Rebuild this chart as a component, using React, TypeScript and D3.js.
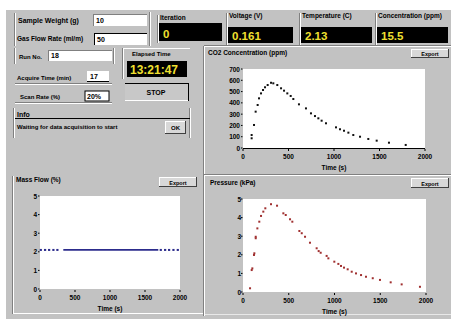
import React from 'react';
import * as d3 from 'd3';

// CO2 concentration curve (ppm) vs time (s)
const co2Time = [95, 95, 121, 139, 161, 176, 198, 220, 242, 271, 308, 333, 377, 418, 451, 487, 524, 553, 615, 692, 747, 791, 828, 864, 912, 1022, 1066, 1110, 1158, 1212, 1286, 1377, 1469, 1604, 1788];
const co2Value = [86, 115, 204, 322, 381, 440, 484, 514, 538, 558, 578, 573, 558, 529, 508, 484, 461, 434, 387, 351, 307, 283, 263, 242, 219, 183, 166, 153, 136, 115, 100, 80, 65, 47, 27];

// pressure curve vs time (s)
const pressureTime = [77, 95, 102, 120, 124, 139, 139, 157, 178, 197, 222, 244, 306, 372, 441, 467, 514, 539, 616, 642, 678, 732, 805, 827, 849, 914, 933, 998, 1042, 1071, 1104, 1144, 1188, 1235, 1290, 1344, 1418, 1497, 1614, 1734, 1934];
const pressureValue = [0.2, 1.18, 1.27, 1.99, 2.08, 2.89, 2.97, 3.42, 3.78, 4.09, 4.32, 4.5, 4.72, 4.64, 4.23, 4.14, 3.91, 3.78, 3.28, 3.16, 2.97, 2.65, 2.35, 2.2, 2.11, 1.94, 1.81, 1.63, 1.51, 1.4, 1.31, 1.22, 1.09, 1.0, 0.91, 0.82, 0.74, 0.65, 0.52, 0.41, 0.28];

// mass flow: sparse samples at the ends, continuous trace in the middle
const flowDotTime = [10, 71, 129, 190, 247, 1724, 1786, 1843, 1905, 1967];
const flowTraceTime = [333, 1690];
const flowLevel = 2.1;

const timeTicks = [0, 500, 1000, 1500, 2000];
const co2Ticks = [0, 100, 200, 300, 400, 500, 600, 700];
const smallTicks = [0, 1, 2, 3, 4, 5];

const FONT = '"Liberation Sans", Arial, sans-serif';
const GRAY = '#c2c2c2';
const DARK = '#808080';

function Txt(props: any) {
  const { x, y, children, size = 7, anchor = 'start', fill = '#000', weight = 'bold' } = props;
  return (
    <text x={x} y={y} fontSize={size} fontFamily={FONT} fontWeight={weight} textAnchor={anchor} fill={fill}>
      {children}
    </text>
  );
}

// sunken input box
function Input({ x, y, w, h, value, dark }: any) {
  return (
    <g>
      <rect x={x} y={y} width={w} height={h} fill="#fff" />
      <line x1={x} y1={y + 0.5} x2={x + w} y2={y + 0.5} stroke={dark ? '#000' : DARK} />
      <line x1={x + 0.5} y1={y} x2={x + 0.5} y2={y + h} stroke={dark ? '#000' : DARK} />
      <Txt x={x + 3} y={y + h - 3}>{value}</Txt>
    </g>
  );
}

function Button({ x, y, w, h, label, size = 6 }: any) {
  return (
    <g>
      <rect x={x} y={y} width={w} height={h} fill="#d8d8d8" />
      <line x1={x} y1={y + 0.5} x2={x + w} y2={y + 0.5} stroke="#fff" />
      <line x1={x + 0.5} y1={y} x2={x + 0.5} y2={y + h} stroke="#fff" />
      <line x1={x} y1={y + h - 0.5} x2={x + w} y2={y + h - 0.5} stroke="#404040" />
      <line x1={x + w - 0.5} y1={y} x2={x + w - 0.5} y2={y + h} stroke="#404040" />
      <Txt x={x + w / 2} y={y + h / 2 + 2.5} anchor="middle" size={size}>{label}</Txt>
    </g>
  );
}

function VGroove({ x, y1, y2 }: any) {
  return (
    <g>
      <line x1={x + 0.5} y1={y1} x2={x + 0.5} y2={y2} stroke={DARK} />
      <line x1={x + 1.5} y1={y1} x2={x + 1.5} y2={y2} stroke="#fff" />
    </g>
  );
}

function HGroove({ y, x1, x2 }: any) {
  return (
    <g>
      <line x1={x1} y1={y + 0.5} x2={x2} y2={y + 0.5} stroke={DARK} />
      <line x1={x1} y1={y + 1.5} x2={x2} y2={y + 1.5} stroke="#fff" />
    </g>
  );
}

function Display({ x, y, w, label, value, boxY, boxH }: any) {
  return (
    <g>
      <VGroove x={x - 2} y1={y - 5} x2={0} y2={boxY + boxH + 2} />
      <Txt x={x + 1} y={y} size={6.5}>{label}</Txt>
      <rect x={x} y={boxY} width={w} height={boxH} fill="#000" />
      <Txt x={x + 4} y={boxY + boxH - 3} size={11.5} fill="#f0e030">{value}</Txt>
    </g>
  );
}

function Chart(props: any) {
  const { x0, x1, y0, y1, yMax, yTicks, labelX, axisLine, children } = props;
  const xs = d3.scaleLinear().domain([0, 2000]).range([x0, x1]);
  const ys = d3.scaleLinear().domain([0, yMax]).range([y1, y0]);
  return (
    <g>
      <rect x={x0} y={y0} width={x1 - x0} height={y1 - y0} fill="#fff" />
      {axisLine && <line x1={x0} y1={y1 + 0.5} x2={x1} y2={y1 + 0.5} stroke="#000" strokeWidth={1.2} />}
      {yTicks.map((t: number) => (
        <g key={'y' + t}>
          <rect x={x0 - 2} y={ys(t) - 0.5} width={1.5} height={1} fill="#000" />
          <Txt x={labelX} y={ys(t) + 2.5} anchor="end" size={6.5}>{t}</Txt>
        </g>
      ))}
      {timeTicks.map((t) => (
        <g key={'x' + t}>
          <rect x={xs(t) - 0.5} y={y1 + 1} width={1} height={2} fill="#000" />
          <Txt x={xs(t)} y={y1 + 11} anchor="middle" size={6.5}>{t}</Txt>
        </g>
      ))}
      <Txt x={(x0 + x1) / 2} y={y1 + 22} anchor="middle" size={6.5}>Time (s)</Txt>
      {children(xs, ys)}
    </g>
  );
}

export default function App() {
  return (
    <svg width={451} height={319} style={{ position: 'absolute', left: 0, top: 0 }}>
      <rect x={0} y={0} width={451} height={319} fill="#fff" />
      <rect x={6} y={10} width={445} height={309} fill={GRAY} />

      {/* top-left parameter controls */}
      <VGroove x={14} y1={13} y2={46} />
      <VGroove x={149} y1={12} y2={46} />
      <Txt x={18} y={23}>Sample Weight (g)</Txt>
      <Input x={93} y={14} w={54} h={12} value="10" />
      <Txt x={17} y={41} size={6.5}>Gas Flow Rate (ml/m)</Txt>
      <Input x={94} y={33} w={53} h={12} value="50" dark />

      <VGroove x={14} y1={48} y2={64} />
      <VGroove x={113} y1={48} y2={64} />
      <Txt x={19} y={59} size={6}>Run No.</Txt>
      <Input x={48} y={50} w={64} h={11} value="18" />

      <Txt x={17} y={80} size={6}>Acquire Time (min)</Txt>
      <rect x={87} y={71} width={22} height={10} fill="#fff" />
      <Txt x={90} y={79}>17</Txt>
      <line x1={87} y1={81.5} x2={109} y2={81.5} stroke="#000" />
      <HGroove y={83} x1={15} x2={112} />

      <Txt x={20} y={99} size={6}>Scan Rate (%)</Txt>
      <rect x={85} y={91} width={24} height={10} fill="#fff" stroke="#000" strokeWidth={1} />
      <Txt x={87} y={99}>20%</Txt>
      <HGroove y={102} x1={15} x2={112} />

      {/* info box */}
      <VGroove x={13} y1={108} y2={138} />
      <VGroove x={189} y1={108} y2={138} />
      <Txt x={17} y={117}>Info</Txt>
      <line x1={15} y1={118.5} x2={190} y2={118.5} stroke="#000" />
      <Txt x={17} y={129} size={6}>Waiting for data acquisition to start</Txt>
      <Button x={165} y={121} w={21} h={13} label="OK" />

      {/* elapsed time + stop */}
      <VGroove x={122} y1={48} y2={79} />
      <line x1={123} y1={48.5} x2={190} y2={48.5} stroke="#fff" />
      <Txt x={132} y={56} size={6}>Elapsed Time</Txt>
      <rect x={127} y={61} width={60} height={16} fill="#000" />
      <Txt x={130} y={74} size={12} fill="#f0e030">13:21:47</Txt>
      <rect x={125} y={83} width={63} height={18} fill="#c8c8c8" />
      <line x1={125} y1={83.5} x2={188} y2={83.5} stroke="#000" />
      <line x1={188.5} y1={83} x2={188.5} y2={101} stroke="#000" />
      <line x1={125} y1={100.5} x2={188} y2={100.5} stroke="#fff" />
      <Txt x={156} y={95} anchor="middle" size={7}>STOP</Txt>

      {/* numeric indicators */}
      <Display x={159} y={20} w={63} label="Iteration" value="0" boxY={23} boxH={18} />
      <Display x={228} y={18} w={65} label="Voltage (V)" value="0.161" boxY={27} boxH={16} />
      <Display x={301} y={18} w={71} label="Temperature (C)" value="2.13" boxY={27} boxH={16} />
      <Display x={377} y={18} w={71} label="Concentration (ppm)" value="15.5" boxY={27} boxH={16} />

      {/* panel frames */}
      <VGroove x={203} y1={46} y2={316} />
      <HGroove y={45} x1={204} x2={451} />
      <HGroove y={174} x1={204} x2={451} />
      <VGroove x={12} y1={176} y2={314} />
      <line x1={13} y1={313.5} x2={203} y2={313.5} stroke="#fff" />
      <line x1={205} y1={314.5} x2={451} y2={314.5} stroke="#e8e8e8" />

      {/* CO2 chart */}
      <Txt x={208} y={55} size={6.5}>CO2 Concentration (ppm)</Txt>
      <Button x={411} y={49} w={38} h={9} label="Export" size={5.5} />
      <Chart x0={243} x1={425} y0={69} y1={148} yMax={700} yTicks={co2Ticks} labelX={240} axisLine>
        {(xs: any, ys: any) =>
          co2Time.map((t, i) => (
            <rect key={i} x={xs(t) - 1} y={ys(co2Value[i]) - 1} width={2} height={2} fill="#111" />
          ))
        }
      </Chart>

      {/* mass flow chart */}
      <Txt x={16} y={182} size={6.5}>Mass Flow (%)</Txt>
      <Button x={159} y={177} w={38} h={10} label="Export" size={5.5} />
      <Chart x0={40} x1={180} y0={196} y1={289} yMax={5} yTicks={smallTicks} labelX={37}>
        {(xs: any, ys: any) => (
          <g>
            {flowDotTime.map((t, i) => (
              <rect key={i} x={xs(t) - 1} y={ys(flowLevel) - 1} width={2.2} height={2} fill="#2c2c8c" />
            ))}
            <line x1={xs(flowTraceTime[0])} y1={ys(flowLevel)} x2={xs(flowTraceTime[1])} y2={ys(flowLevel)} stroke="#2c2c8c" strokeWidth={1.8} />
          </g>
        )}
      </Chart>

      {/* pressure chart */}
      <Txt x={210} y={185} size={6.5}>Pressure (kPa)</Txt>
      <Button x={411} y={178} w={38} h={10} label="Export" size={5.5} />
      <Chart x0={243} x1={426} y0={199} y1={292} yMax={5} yTicks={smallTicks} labelX={241}>
        {(xs: any, ys: any) =>
          pressureTime.map((t, i) => (
            <rect key={i} x={xs(t) - 1} y={ys(pressureValue[i]) - 1} width={2} height={2} fill="#a03030" />
          ))
        }
      </Chart>
    </svg>
  );
}
